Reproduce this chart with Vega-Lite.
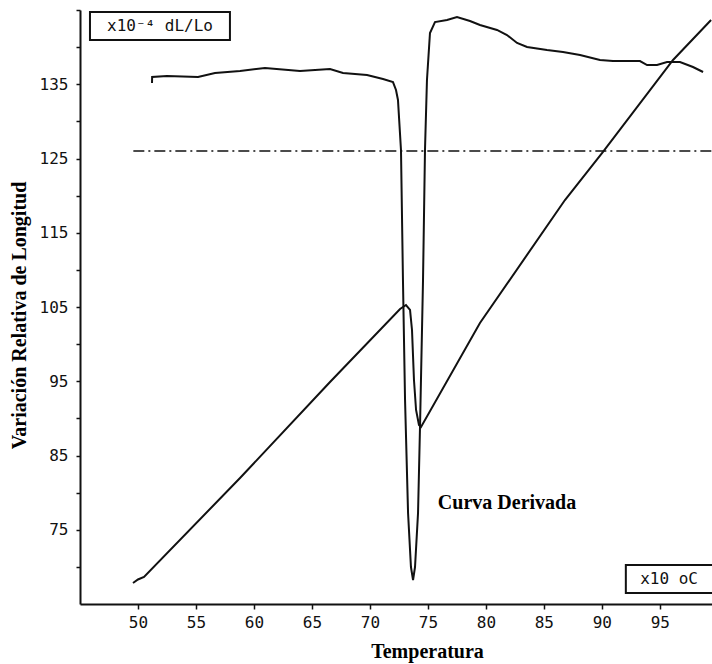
{
  "$schema": "https://vega.github.io/schema/vega-lite/v6.json",
  "autosize": "none",
  "width": 632,
  "height": 594,
  "padding": {"left": 80, "top": 10, "right": 0, "bottom": 60},
  "background": "white",
  "config": {
    "view": {"stroke": null},
    "axis": {"grid": false, "domainColor": "#111", "domainWidth": 2, "tickColor": "#111", "tickWidth": 1.5, "labelFont": "DejaVu Sans Mono", "labelFontSize": 16, "labelColor": "#111", "titleFont": "Liberation Serif", "titleFontWeight": "bold", "titleFontSize": 20, "titleColor": "#000", "labelOverlap": false, "labelBound": false, "labelFlush": false}
  },
  "datasets": {
    "derivada": [
      {"i": 1, "x": 51.21, "y": 135.17},
      {"i": 2, "x": 51.22, "y": 135.98},
      {"i": 3, "x": 52.5, "y": 136.11},
      {"i": 4, "x": 55.18, "y": 135.98},
      {"i": 5, "x": 56.64, "y": 136.52},
      {"i": 6, "x": 58.8, "y": 136.78},
      {"i": 7, "x": 60.95, "y": 137.19},
      {"i": 8, "x": 63.97, "y": 136.78},
      {"i": 9, "x": 66.56, "y": 137.05},
      {"i": 10, "x": 67.68, "y": 136.52},
      {"i": 11, "x": 69.75, "y": 136.25},
      {"i": 12, "x": 71.13, "y": 135.71},
      {"i": 13, "x": 71.99, "y": 135.3},
      {"i": 14, "x": 72.25, "y": 134.23},
      {"i": 15, "x": 72.42, "y": 132.88},
      {"i": 16, "x": 72.68, "y": 126.15},
      {"i": 17, "x": 72.85, "y": 108.64},
      {"i": 18, "x": 73.03, "y": 92.47},
      {"i": 19, "x": 73.29, "y": 77.26},
      {"i": 20, "x": 73.54, "y": 69.98},
      {"i": 21, "x": 73.72, "y": 68.23},
      {"i": 22, "x": 73.89, "y": 69.98},
      {"i": 23, "x": 74.15, "y": 77.26},
      {"i": 24, "x": 74.32, "y": 88.84},
      {"i": 25, "x": 74.58, "y": 108.64},
      {"i": 26, "x": 74.75, "y": 126.15},
      {"i": 27, "x": 74.92, "y": 135.57},
      {"i": 28, "x": 75.18, "y": 141.9},
      {"i": 29, "x": 75.61, "y": 143.38},
      {"i": 30, "x": 76.65, "y": 143.65},
      {"i": 31, "x": 77.51, "y": 144.06},
      {"i": 32, "x": 78.63, "y": 143.52},
      {"i": 33, "x": 79.49, "y": 142.98},
      {"i": 34, "x": 80.96, "y": 142.31},
      {"i": 35, "x": 81.82, "y": 141.63},
      {"i": 36, "x": 82.69, "y": 140.56},
      {"i": 37, "x": 83.55, "y": 140.02},
      {"i": 38, "x": 85.27, "y": 139.61},
      {"i": 39, "x": 86.65, "y": 139.34},
      {"i": 40, "x": 88.12, "y": 138.94},
      {"i": 41, "x": 89.84, "y": 138.27},
      {"i": 42, "x": 90.96, "y": 138.13},
      {"i": 43, "x": 93.29, "y": 138.13},
      {"i": 44, "x": 93.9, "y": 137.59},
      {"i": 45, "x": 94.76, "y": 137.59},
      {"i": 46, "x": 95.62, "y": 138.0},
      {"i": 47, "x": 96.74, "y": 138.0},
      {"i": 48, "x": 97.86, "y": 137.32},
      {"i": 49, "x": 98.73, "y": 136.65}
    ],
    "dilatacion": [
      {"i": 1, "x": 49.57, "y": 67.83},
      {"i": 2, "x": 50.0, "y": 68.3},
      {"i": 3, "x": 50.52, "y": 68.64},
      {"i": 4, "x": 58.8, "y": 81.97},
      {"i": 5, "x": 66.56, "y": 94.9},
      {"i": 6, "x": 72.6, "y": 104.73},
      {"i": 7, "x": 73.11, "y": 105.27},
      {"i": 8, "x": 73.46, "y": 104.6},
      {"i": 9, "x": 73.63, "y": 101.9},
      {"i": 10, "x": 73.8, "y": 95.17},
      {"i": 11, "x": 73.98, "y": 91.13},
      {"i": 12, "x": 74.23, "y": 89.11},
      {"i": 13, "x": 74.41, "y": 88.84},
      {"i": 14, "x": 79.49, "y": 102.84},
      {"i": 15, "x": 86.82, "y": 119.41},
      {"i": 16, "x": 90.1, "y": 125.88},
      {"i": 17, "x": 96.14, "y": 138.27},
      {"i": 18, "x": 99.42, "y": 143.65}
    ],
    "referencia": [{"x": 49.6, "x2": 99.5, "y": 126}],
    "cajas": [
      {"x": 45.86, "x2": 57.93, "y": 144.73, "y2": 140.96},
      {"x": 92.07, "x2": 99.6, "y": 70.25, "y2": 66.48}
    ],
    "etiquetas": [
      {"x": 51.9, "y": 142.85, "t": "x10⁻⁴  dL/Lo"},
      {"x": 95.8, "y": 68.4, "t": "x10  oC"}
    ],
    "anotacion": [{"x": 75.86, "y": 78.6, "t": "Curva Derivada"}]
  },
  "layer": [
    {
      "data": {"name": "referencia"},
      "mark": {"type": "rule", "stroke": "#111", "strokeWidth": 1.5, "strokeDash": [11, 4, 2, 4]},
      "encoding": {
        "x": {"field": "x", "type": "quantitative", "scale": {"domain": [45, 99.5], "nice": false, "zero": false},
          "axis": {"title": "Temperatura", "values": [50, 55, 60, 65, 70, 75, 80, 85, 90, 95], "tickCount": 30, "tickSize": 5, "labelPadding": 5, "titlePadding": 11, "titleX": 347, "titleAlign": "center"}},
        "x2": {"field": "x2"},
        "y": {"field": "y", "type": "quantitative", "scale": {"domain": [65, 145], "nice": false, "zero": false},
          "axis": {"title": "Variación Relativa de Longitud", "values": [70, 75, 80, 85, 90, 95, 100, 105, 110, 115, 120, 125, 130, 135, 140, 145], "tickCount": 40, "labelExpr": "(datum.value % 10 == 5 && datum.value < 140) ? datum.label : ''", "labelOverlap": false, "labelBound": false, "tickSize": 4, "labelPadding": 8, "titlePadding": 10, "titleY": 305, "titleAlign": "center"}}
      }
    },
    {
      "data": {"name": "derivada"},
      "mark": {"type": "line", "stroke": "#111", "strokeWidth": 2, "interpolate": "linear"},
      "encoding": {
        "x": {"field": "x", "type": "quantitative"},
        "y": {"field": "y", "type": "quantitative"},
        "order": {"field": "i", "type": "quantitative"}
      }
    },
    {
      "data": {"name": "dilatacion"},
      "mark": {"type": "line", "stroke": "#111", "strokeWidth": 2},
      "encoding": {
        "x": {"field": "x", "type": "quantitative"},
        "y": {"field": "y", "type": "quantitative"},
        "order": {"field": "i", "type": "quantitative"}
      }
    },
    {
      "data": {"name": "cajas"},
      "mark": {"type": "rect", "fill": "white", "stroke": "#111", "strokeWidth": 2, "clip": true},
      "encoding": {
        "x": {"field": "x", "type": "quantitative"},
        "x2": {"field": "x2"},
        "y": {"field": "y", "type": "quantitative"},
        "y2": {"field": "y2"}
      }
    },
    {
      "data": {"name": "etiquetas"},
      "mark": {"type": "text", "font": "DejaVu Sans Mono", "fontSize": 16, "fill": "#111", "align": "center", "baseline": "middle"},
      "encoding": {
        "x": {"field": "x", "type": "quantitative"},
        "y": {"field": "y", "type": "quantitative"},
        "text": {"field": "t"}
      }
    },
    {
      "data": {"name": "anotacion"},
      "mark": {"type": "text", "font": "Liberation Serif", "fontWeight": "bold", "fontSize": 20, "fill": "#000", "align": "left", "baseline": "middle"},
      "encoding": {
        "x": {"field": "x", "type": "quantitative"},
        "y": {"field": "y", "type": "quantitative"},
        "text": {"field": "t"}
      }
    }
  ]
}
